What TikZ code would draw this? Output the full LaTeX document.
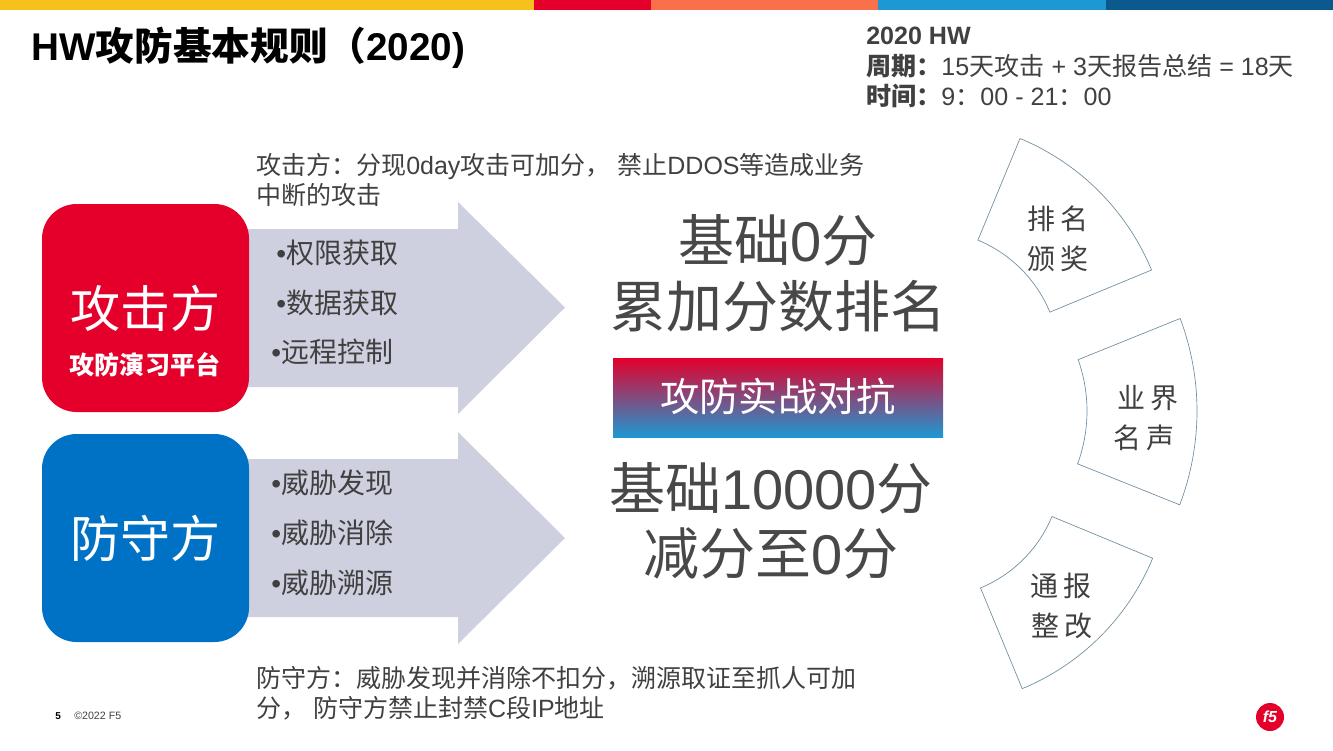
\documentclass[tikz,border=0pt]{standalone}
\usepackage{fontspec}
\setmainfont{Liberation Sans}
\newfontfamily\zhfont{Noto Sans CJK SC}
\newcommand{\zh}[1]{{\zhfont #1}}
\newcommand{\fs}[1]{\fontsize{#1}{#1}\selectfont}
\usetikzlibrary{calc}
\definecolor{txt}{HTML}{404040}
\definecolor{big}{HTML}{484848}
\definecolor{fivered}{HTML}{E4002B}
\definecolor{fiveblue}{HTML}{0072C6}
\definecolor{gradblue}{HTML}{1E98D3}
\definecolor{arrowfill}{HTML}{CFD0DF}
\definecolor{barorange}{HTML}{F9704B}
\definecolor{baryellow}{HTML}{F6C11D}
\definecolor{bardark}{HTML}{0B5A8E}
\definecolor{sectorline}{HTML}{6F8D9E}
\tikzset{
  lbl/.style={inner sep=0pt,anchor=base west,text=txt},
  ctr/.style={inner sep=0pt,anchor=base,text=big},
  side/.style={lbl,font=\fs{18.75}},
  bul/.style={lbl,font=\fs{21}},
  sideboxa/.style={fill=fivered,rounded corners=26pt,draw=none},
  sideboxb/.style={fill=fiveblue,rounded corners=26pt,draw=none},
  bigarrow/.style={fill=arrowfill,draw=none},
  sector/.style={draw=sectorline,line width=0.5pt,fill=white},
  sectxt/.style={inner sep=0pt,anchor=base,text=txt,font=\fs{21}},
}
\begin{document}
\begin{tikzpicture}[x=0.75pt,y=-0.75pt]
\useasboundingbox (0,0) rectangle (1333,750);
% colour bar
\fill[baryellow] (0,0) rectangle (534,10);
\fill[fivered] (534,0) rectangle (651,10);
\fill[barorange] (651,0) rectangle (878,10);
\fill[gradblue] (878,0) rectangle (1106,10);
\fill[bardark] (1106,0) rectangle (1333,10);
% title
\node[lbl,text=black,font=\fs{29}\bfseries] (title) at (31,60) {HW\zh{攻防基本规则（}2020)};
\node[lbl,font=\fs{18.8}\bfseries] (hw) at (866,44) {2020 HW};
\node[lbl,font=\fs{18.8}] (cycle) at (866,75) {\zh{\bfseries 周期：}15\zh{天攻击} + 3\zh{天报告总结} = 18\zh{天}};
\node[lbl,font=\fs{18.8}] (time) at (866,105) {\zh{\bfseries 时间：}9\zh{：}00 - 21\zh{：}00};
% side text
\node[side] (t1) at (256,174) {\zh{攻击方：分现}0day\zh{攻击可加分，} \zh{禁止}DDOS\zh{等造成业务}};
\node[side] (t2) at (256,204) {\zh{中断的攻击}};
\node[side] (t3) at (256,687) {\zh{防守方：威胁发现并消除不扣分，溯源取证至抓人可加}};
\node[side] (t4) at (256,717) {\zh{分，} \zh{防守方禁止封禁}C\zh{段}IP\zh{地址}};
% arrows
\path[bigarrow,fill] (240,229) -- (458,229) -- (458,202) -- (565,307.5) -- (458,414) -- (458,387) -- (240,387) -- cycle;
\path[bigarrow,fill] (240,459) -- (458,459) -- (458,432) -- (565,538) -- (458,644) -- (458,617) -- (240,617) -- cycle;
% boxes
\path[sideboxa] (42,204) rectangle (249,412);
\path[sideboxb] (42,434) rectangle (249,642);
\node[inner sep=0pt,anchor=base,text=white,font=\fs{37.5}] (a) at (145,327) {\zh{攻击方}};
\node[inner sep=0pt,anchor=base,text=white,font=\fs{18.8}\bfseries] (asub) at (145,374) {\zh{攻防演习平台}};
\node[inner sep=0pt,anchor=base,text=white,font=\fs{37.5}] (d) at (145,557) {\zh{防守方}};
% bullets
\node[bul] (b1) at (276,263) {•\zh{权限获取}};
\node[bul] (b2) at (276,313) {•\zh{数据获取}};
\node[bul] (b3) at (271,362) {•\zh{远程控制}};
\node[bul] (b4) at (271,493) {•\zh{威胁发现}};
\node[bul] (b5) at (271,543) {•\zh{威胁消除}};
\node[bul] (b6) at (271,593) {•\zh{威胁溯源}};
% centre
\node[ctr,font=\fs{42}] (c1) at (778,261) {\zh{基础}0\zh{分}};
\node[ctr,font=\fs{42}] (c2) at (778,327) {\zh{累加分数排名}};
\path[top color=fivered,bottom color=gradblue,draw=none] (613,358) rectangle (943,437);
\node[inner sep=0pt,anchor=base,text=white,font=\fs{29.5}] (c3) at (778,411) {\zh{攻防实战对抗}};
\node[ctr,font=\fs{42}] (c4) at (771,509) {\zh{基础}10000\zh{分}};
\node[ctr,font=\fs{42}] (c5) at (771,574) {\zh{减分至}0\zh{分}};
% sectors
\coordinate (s1) at (927,363);
\coordinate (s2) at (934,411);
\coordinate (s3) at (930,466);
\draw[sector] ($(s1)+(-67.5:243)$) arc[start angle=-67.5,end angle=-22.5,radius=243]
  -- ($(s1)+(-22.5:133)$) arc[start angle=-22.5,end angle=-67.5,radius=133] -- cycle;
\draw[sector] ($(s2)+(-20.6:263)$) arc[start angle=-20.6,end angle=20.9,radius=263]
  -- ($(s2)+(20.2:153)$) arc[start angle=20.2,end angle=-19.6,radius=153] -- cycle;
\draw[sector] ($(s3)+(22.5:241)$) arc[start angle=22.5,end angle=67.5,radius=241]
  -- ($(s3)+(67.5:132)$) arc[start angle=67.5,end angle=22.5,radius=132] -- cycle;
\node[sectxt] (r1) at (1058,229) {\zh{排\hspace{4pt}名}};
\node[sectxt] (r2) at (1058,269) {\zh{颁\hspace{4pt}奖}};
\node[sectxt] (r3) at (1148,408) {\zh{业\hspace{4pt}界}};
\node[sectxt] (r4) at (1144,448) {\zh{名\hspace{4pt}声}};
\node[sectxt] (r5) at (1061,596) {\zh{通\hspace{4pt}报}};
\node[sectxt] (r6) at (1062,636) {\zh{整\hspace{4pt}改}};
% footer
\node[lbl,text=black,font=\fs{7.5}\bfseries] (pg) at (55,719) {5};
\node[lbl,font=\fs{8}] (cr) at (74,719) {©2022 F5};
\node[circle,fill=fivered,minimum size=21pt,inner sep=0pt,text=white,font=\fs{12}\bfseries\itshape] (logo) at (1270,717) {f5};
\end{tikzpicture}
\end{document}
